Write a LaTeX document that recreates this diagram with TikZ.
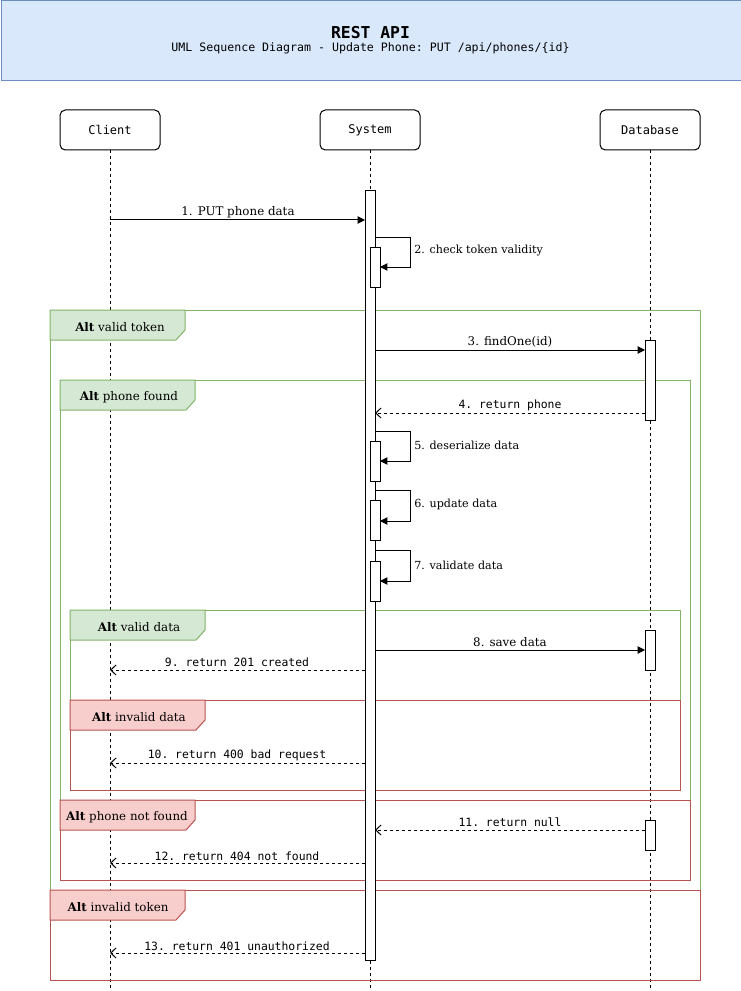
\documentclass[tikz,border=0pt]{standalone}
\usepackage{fontspec}
\setmainfont{DejaVu Serif}
\setmonofont{DejaVu Sans Mono}
\usetikzlibrary{arrows.meta}
\definecolor{hdrfill}{HTML}{DAE8FC}
\definecolor{hdrline}{HTML}{6C8EBF}
\definecolor{gfill}{HTML}{D5E8D4}
\definecolor{gline}{HTML}{82B366}
\definecolor{rfill}{HTML}{F8CECC}
\definecolor{rline}{HTML}{B85450}
\begin{document}
\begin{tikzpicture}[x=0.75pt,y=-0.75pt,
  every node/.style={inner sep=0pt},
  participant/.style={draw, line width=0.75pt, rounded corners=4pt, fill=white,
    minimum width=75pt, minimum height=30pt, font=\ttfamily\fontsize{9}{10}\selectfont},
  lifeline/.style={line width=0.75pt, dash pattern=on 2.25pt off 2.25pt},
  act/.style={draw, line width=0.75pt, fill=white, minimum width=7.5pt},
  sync/.style={line width=0.75pt, -{Triangle[length=5.5pt,width=5.5pt]}},
  ret/.style={line width=0.75pt, dash pattern=on 2.25pt off 2.25pt, -{Straight Barb[length=4pt,width=7.5pt]}},
  msglbl/.style={font=\fontsize{8.9}{10}\selectfont},
  selflbl/.style={font=\fontsize{8.35}{10}\selectfont, anchor=west},
  retlbl/.style={font=\ttfamily\fontsize{8.55}{10}\selectfont},
  altlbl/.style={font=\fontsize{8.9}{10}\selectfont},
  gframe/.style={draw=gline, line width=0.75pt},
  rframe/.style={draw=rline, line width=0.75pt},
  gtab/.style={draw=gline, fill=gfill, line width=0.75pt},
  rtab/.style={draw=rline, fill=rfill, line width=0.75pt}
]
\useasboundingbox (0,0) rectangle (741,991);

% header
\node[draw=hdrline, fill=hdrfill, line width=0.75pt, minimum width=555pt, minimum height=60pt, anchor=north west] (hdr) at (0.5,0.5) {};
\node[font=\ttfamily\bfseries\fontsize{12.3}{14}\selectfont] (title) at (370.5,33) {REST API};
\node[font=\ttfamily\fontsize{8.7}{10}\selectfont] (subtitle) at (370.5,48) {UML Sequence Diagram - Update Phone: PUT /api/phones/\{id\}};

% participants
\node[participant] (client) at (110,130) {Client};
\node[participant] (system) at (370,130) {System};
\node[participant] (db) at (650,130) {Database};
\coordinate (clientEnd) at (110,991);
\coordinate (systemEnd) at (370,991);
\coordinate (dbEnd) at (650,991);
\draw[lifeline] (client.south) -- (clientEnd);
\draw[lifeline] (system.south) -- (systemEnd);
\draw[lifeline] (db.south) -- (dbEnd);

% frames
\draw[gframe] (50,310) rectangle (700,890);
\draw[gtab] (50,310) -- (185,310) -- (185,330) -- (176,340) -- (50,340) -- cycle;
\node[altlbl] (lblValidToken) at (120,327) {\textbf{Alt} valid token};

\draw[gframe] (60,380) rectangle (690,800);
\draw[gtab] (60,380) -- (195,380) -- (195,400) -- (186,410) -- (60,410) -- cycle;
\node[altlbl] (lblPhoneFound) at (129,397) {\textbf{Alt} phone found};

\draw[gframe] (70,610) rectangle (680,700);
\draw[gtab] (70,610) -- (205,610) -- (205,630) -- (196,640) -- (70,640) -- cycle;
\node[altlbl] (lblValidData) at (139,627) {\textbf{Alt} valid data};

\draw[rframe] (70,700) rectangle (680,790);
\draw[rtab] (70,700) -- (205,700) -- (205,720) -- (196,730) -- (70,730) -- cycle;
\node[altlbl] (lblInvalidData) at (139,717) {\textbf{Alt} invalid data};

\draw[rframe] (60,800) rectangle (690,880);
\draw[rtab] (60,800) -- (195,800) -- (195,820) -- (186,830) -- (60,830) -- cycle;
\node[altlbl] (lblNotFound) at (127,817) {\textbf{Alt} phone not found};

\draw[rframe] (50,890) rectangle (700,980);
\draw[rtab] (50,890) -- (185,890) -- (185,910) -- (176,920) -- (50,920) -- cycle;
\node[altlbl] (lblInvalidToken) at (118,907) {\textbf{Alt} invalid token};

% activations
\node[act, minimum height=577.5pt, anchor=north] (actS) at (370,190) {};
\node[act, minimum height=30pt, anchor=north] (act2) at (375,247) {};
\node[act, minimum height=60pt, anchor=north] (actD1) at (650,340) {};
\node[act, minimum height=30pt, anchor=north] (act5) at (375,441) {};
\node[act, minimum height=30pt, anchor=north] (act6) at (375,500) {};
\node[act, minimum height=30pt, anchor=north] (act7) at (375,561) {};
\node[act, minimum height=30pt, anchor=north] (actD2) at (650,630) {};
\node[act, minimum height=22.5pt, anchor=north] (actD3) at (650,820) {};

% message 1
\coordinate (m1a) at (110,220);
\coordinate (m1b) at (365,220);
\draw[sync] (m1a) -- (m1b);
\node[msglbl] (l1) at (238,212) {1. PUT phone data};

% message 2 (self)
\coordinate (m2a) at (375,237);
\coordinate (m2b) at (410,237);
\coordinate (m2c) at (410,267);
\coordinate (m2d) at (380,267);
\draw[sync] (m2a) -- (m2b) -- (m2c) -- (m2d);
\node[selflbl] (l2) at (414,251) {2. check token validity};

% message 3
\coordinate (m3a) at (375,350);
\coordinate (m3b) at (645,350);
\draw[sync] (m3a) -- (m3b);
\node[msglbl] (l3) at (510,342) {3. findOne(id)};

% message 4
\coordinate (m4a) at (645,413);
\coordinate (m4b) at (375,413);
\draw[ret] (m4a) -- (m4b);
\node[retlbl] (l4) at (510,405) {4. return phone};

% message 5
\coordinate (m5a) at (375,431);
\coordinate (m5b) at (410,431);
\coordinate (m5c) at (410,461);
\coordinate (m5d) at (380,461);
\draw[sync] (m5a) -- (m5b) -- (m5c) -- (m5d);
\node[selflbl] (l5) at (414,445) {5. deserialize data};

% message 6
\coordinate (m6a) at (375,490);
\coordinate (m6b) at (410,490);
\coordinate (m6c) at (410,521);
\coordinate (m6d) at (380,521);
\draw[sync] (m6a) -- (m6b) -- (m6c) -- (m6d);
\node[selflbl] (l6) at (414,504) {6. update data};

% message 7
\coordinate (m7a) at (375,550);
\coordinate (m7b) at (410,550);
\coordinate (m7c) at (410,581);
\coordinate (m7d) at (380,581);
\draw[sync] (m7a) -- (m7b) -- (m7c) -- (m7d);
\node[selflbl] (l7) at (414,565) {7. validate data};

% message 8
\coordinate (m8a) at (375,650);
\coordinate (m8b) at (645,650);
\draw[sync] (m8a) -- (m8b);
\node[msglbl] (l8) at (510,642) {8. save data};

% message 9
\coordinate (m9a) at (365,670);
\coordinate (m9b) at (110,670);
\draw[ret] (m9a) -- (m9b);
\node[retlbl] (l9) at (237,662) {9. return 201 created};

% message 10
\coordinate (m10a) at (365,763);
\coordinate (m10b) at (110,763);
\draw[ret] (m10a) -- (m10b);
\node[retlbl] (l10) at (237,755) {10. return 400 bad request};

% message 11
\coordinate (m11a) at (645,830);
\coordinate (m11b) at (375,830);
\draw[ret] (m11a) -- (m11b);
\node[retlbl] (l11) at (510,822) {11. return null};

% message 12
\coordinate (m12a) at (365,863);
\coordinate (m12b) at (110,863);
\draw[ret] (m12a) -- (m12b);
\node[retlbl] (l12) at (237,856) {12. return 404 not found};

% message 13
\coordinate (m13a) at (365,953);
\coordinate (m13b) at (110,953);
\draw[ret] (m13a) -- (m13b);
\node[retlbl] (l13) at (237,946) {13. return 401 unauthorized};
\end{tikzpicture}
\end{document}
